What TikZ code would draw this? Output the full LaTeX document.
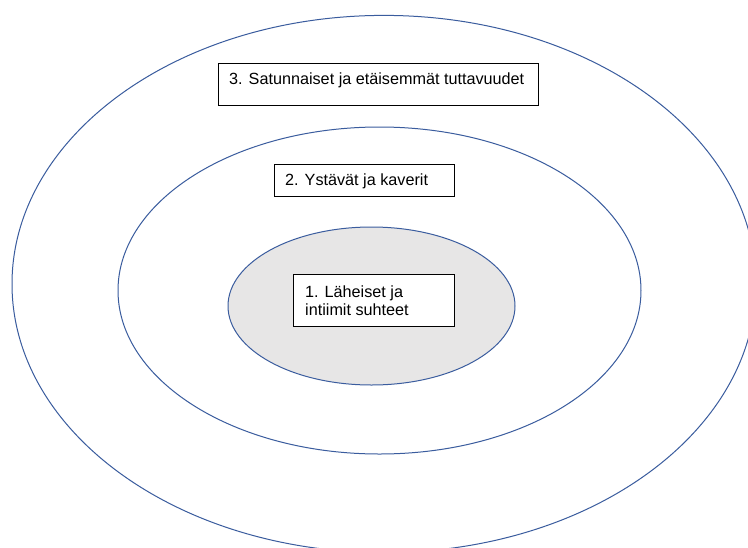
\documentclass[tikz,border=0pt]{standalone}
\usepackage{fontspec}
\setmainfont{Liberation Sans}
\definecolor{ringblue}{HTML}{3A5C9E}
\definecolor{coregray}{HTML}{E7E6E6}
\begin{document}
\begin{tikzpicture}[x=1pt,y=-1pt,
  ring/.style={draw=ringblue, line width=1pt},
  box/.style={draw=black, line width=1.2pt, fill=white, anchor=north west, inner sep=0pt},
  lbl/.style={anchor=base west, inner sep=0pt, font=\fontsize{16.2}{18}\selectfont, align=left}]
\useasboundingbox (0,0) rectangle (748,547);
\clip (0,0) rectangle (748,547);
\fill[white] (0,0) rectangle (748,547);
% rings
\draw[ring] (384,284) ellipse [x radius=372, y radius=268.6];
\draw[ring] (379.5,290.5) ellipse [x radius=261.5, y radius=163.5];
\draw[ring, fill=coregray] (371.5,306) ellipse [x radius=143.5, y radius=79];
% boxes
\node[box, minimum width=320pt, minimum height=42pt] (b3) at (218,63) {};
\node[box, minimum width=180pt, minimum height=32pt] (b2) at (274,164) {};
\node[box, minimum width=161pt, minimum height=52pt] (b1) at (293,274) {};
% labels
\node[lbl] (t3) at (229,84) {3. Satunnaiset ja etäisemmät tuttavuudet};
\node[lbl] (t2) at (285,185) {2. Ystävät ja kaverit};
\node[lbl] (t1a) at (305,297) {1. Läheiset ja};
\node[lbl] (t1b) at (305,315) {intiimit suhteet};
\end{tikzpicture}
\end{document}
